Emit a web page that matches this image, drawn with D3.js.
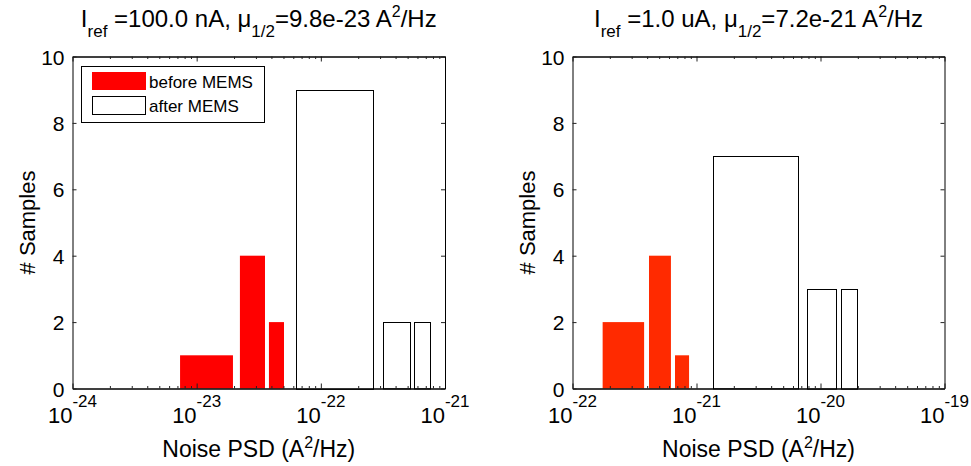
<!DOCTYPE html>
<html>
<head>
<meta charset="utf-8">
<script src="https://cdn.jsdelivr.net/npm/d3@7"></script>
<style>
  body { margin: 0; background: #fff; }
  svg { font-family: "Liberation Sans", Arial, sans-serif; }
</style>
</head>
<body>
<div id="chart"></div>
<script>
// histogram bins: [lower edge, upper edge] in A^2/Hz and the count
const leftBefore = [[7.35e-24, 1.96e-23, 1], [2.23e-23, 3.55e-23, 4], [3.82e-23, 5.05e-23, 2]];
const leftAfter = [[6.27e-23, 2.61e-22, 9], [3.15e-22, 5.15e-22, 2], [5.65e-22, 7.6e-22, 2]];
const rightBefore = [[1.75e-22, 3.78e-22, 2], [4.14e-22, 6.22e-22, 4], [6.71e-22, 8.71e-22, 1]];
const rightAfter = [[1.35e-21, 6.59e-21, 7], [7.83e-21, 1.33e-20, 3], [1.46e-20, 1.96e-20, 3]];

const leftDomain = [1e-24, 1e-21];
const rightDomain = [1e-22, 1e-19];
const yTicks = [0, 2, 4, 6, 8, 10];

const leftTitle = { iref: '=100.0 nA, ', mu: '=9.8e-23 A' };
const rightTitle = { iref: '=1.0 uA, ', mu: '=7.2e-21 A' };

const W = 971, H = 466;
const svg = d3.select('#chart').append('svg')
  .attr('width', W)
  .attr('height', H);

function panel(x0, x1, domain, before, after, beforeColor, title, legend) {
  const top = 56.5, bottom = 388.5;
  const x = d3.scaleLog().domain(domain).range([x0, x1]);
  const y = d3.scaleLinear().domain([0, 10]).range([bottom, top]);
  const g = svg.append('g');

  // red bars
  g.selectAll('.before')
    .data(before)
    .enter().append('rect')
    .attr('class', 'before')
    .attr('x', d => x(d[0]))
    .attr('y', d => y(d[2]))
    .attr('width', d => x(d[1]) - x(d[0]))
    .attr('height', d => y(0) - y(d[2]))
    .attr('fill', beforeColor);

  // outlined bars
  g.selectAll('.after')
    .data(after)
    .enter().append('rect')
    .attr('class', 'after')
    .attr('x', d => Math.round(x(d[0])) + 0.5)
    .attr('y', d => Math.round(y(d[2])) + 0.5)
    .attr('width', d => Math.round(x(d[1]) - x(d[0])))
    .attr('height', d => y(0) - y(d[2]))
    .attr('fill', '#fff')
    .attr('stroke', '#000')
    .attr('stroke-width', 1);

  const all = x.ticks();
  const majors = all.filter(v => Math.abs(Math.log10(v) - Math.round(Math.log10(v))) < 1e-6);
  const minors = all.filter(v => majors.indexOf(v) < 0);

  const addAxis = (axis, transform) => {
    const a = g.append('g')
      .attr('transform', transform)
      .call(axis);
    a.selectAll('line').attr('stroke', '#222');
    a.selectAll('path').attr('stroke', '#000');
    return a;
  };

  addAxis(d3.axisBottom(x).tickValues(majors).tickSize(-5).tickSizeOuter(0).tickFormat(''), `translate(0,${bottom})`);
  addAxis(d3.axisBottom(x).tickValues(minors).tickSize(-2.5).tickSizeOuter(0).tickFormat(''), `translate(0,${bottom})`);
  addAxis(d3.axisTop(x).tickValues(majors).tickSize(-5).tickSizeOuter(0).tickFormat(''), `translate(0,${top})`);
  addAxis(d3.axisTop(x).tickValues(minors).tickSize(-2.5).tickSizeOuter(0).tickFormat(''), `translate(0,${top})`);
  const yl = addAxis(d3.axisLeft(y).tickValues(yTicks).tickSize(-4).tickSizeOuter(0).tickPadding(8), `translate(${x0},0)`);
  yl.selectAll('text')
    .attr('font-size', 21)
    .attr('dy', '0.36em')
    .attr('font-family', '"Liberation Sans", Arial, sans-serif')
    .attr('fill', '#000');
  addAxis(d3.axisRight(y).tickValues(yTicks).tickSize(-4).tickSizeOuter(0).tickFormat(''), `translate(${x1},0)`);

  // x tick labels 10^n
  const lab = g.selectAll('.xlab')
    .data(majors)
    .enter().append('text')
    .attr('class', 'xlab')
    .attr('x', d => x(d))
    .attr('y', 423)
    .attr('text-anchor', 'middle')
    .attr('font-size', 22);
  lab.append('tspan').text('10');
  lab.append('tspan')
    .attr('dy', -16)
    .attr('font-size', 17)
    .text(d => String(Math.round(Math.log10(d))));

  const cx = (x0 + x1) / 2;

  // x label
  const xl = g.append('text')
    .attr('x', cx)
    .attr('y', 457)
    .attr('text-anchor', 'middle')
    .attr('font-size', 23);
  xl.append('tspan').text('Noise PSD (A');
  xl.append('tspan').attr('dy', -9).attr('font-size', 16).text('2');
  xl.append('tspan').attr('dy', 9).text('/Hz)');

  // y label
  g.append('text')
    .attr('transform', `translate(${x0 - 37.5},${(top + bottom) / 2}) rotate(-90)`)
    .attr('text-anchor', 'middle')
    .attr('font-size', 22)
    .text('# Samples');

  // title
  const t = g.append('text')
    .attr('x', cx)
    .attr('y', 27)
    .attr('text-anchor', 'middle')
    .attr('font-size', 24);
  t.append('tspan').text('I');
  t.append('tspan').attr('dy', 10).attr('font-size', 17).text('ref');
  t.append('tspan').attr('dy', -10).text(' ' + title.iref + 'μ');
  t.append('tspan').attr('dy', 10).attr('font-size', 17).text('1/2');
  t.append('tspan').attr('dy', -10).text(title.mu);
  t.append('tspan').attr('dy', -10).attr('font-size', 16).text('2');
  t.append('tspan').attr('dy', 10).text('/Hz');

  if (legend) {
    const lg = g.append('g');
    lg.append('rect')
      .attr('x', 81.5).attr('y', 66.5)
      .attr('width', 183).attr('height', 56)
      .attr('fill', '#fff').attr('stroke', '#000');
    lg.append('rect')
      .attr('x', 92).attr('y', 72)
      .attr('width', 54).attr('height', 18)
      .attr('fill', beforeColor);
    lg.append('rect')
      .attr('x', 92.5).attr('y', 96.5)
      .attr('width', 53).attr('height', 18)
      .attr('fill', '#fff').attr('stroke', '#000');
    lg.append('text').attr('x', 149).attr('y', 88).attr('font-size', 17).text('before MEMS');
    lg.append('text').attr('x', 149).attr('y', 112).attr('font-size', 17).text('after MEMS');
  }
}

panel(72.5, 445, leftDomain, leftBefore, leftAfter, '#ff0000', leftTitle, true);
panel(572.5, 944.5, rightDomain, rightBefore, rightAfter, '#ff2a00', rightTitle, false);
</script>
</body>
</html>
